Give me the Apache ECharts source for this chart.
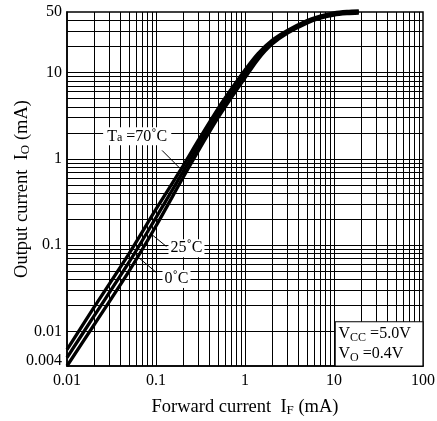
<!DOCTYPE html>
<html>
<head>
<meta charset="utf-8">
<script src="https://cdn.jsdelivr.net/npm/echarts@6/dist/echarts.min.js"></script>
<style>html,body{margin:0;padding:0;background:#fff}#c{width:437px;height:421px}</style>
</head>
<body>
<div id="c"></div>
<script>
// ---- data ----
const forwardCurrent = [0.01, 0.02, 0.05, 0.1, 0.2, 0.3, 0.5, 0.7, 1, 1.4, 2, 3, 5, 7, 10, 14, 19];
const output70C = [0.0062, 0.0189, 0.0806, 0.261, 0.819, 1.645, 3.84, 6.38, 10.66, 16.5, 23.3, 30.5, 39.8, 44.9, 48.9, 50.8, 51.5];
const output25C = [0.005, 0.0150, 0.064, 0.209, 0.70, 1.43, 3.4, 5.7, 9.6, 15.3, 22.2, 29.5, 38.6, 43.6, 47.5, 49.3, 50];
const output0C  = [0.004, 0.01185, 0.0506, 0.167, 0.599, 1.244, 3.01, 5.07, 8.64, 14.15, 21.1, 28.5, 37.4, 42.3, 46.1, 47.8, 48.5];

const xTicks = [0.01, 0.1, 1, 10, 100];
const xTickLabels = ['0.01', '0.1', '1', '10', '100'];
const yTicks = [0.004, 0.01, 0.1, 1, 10, 50];
const yTickLabels = ['0.004', '0.01', '0.1', '1', '10', '50'];

const xGridValues = [0.02,0.03,0.04,0.05,0.06,0.07,0.08,0.09,0.1,0.2,0.3,0.4,0.5,0.6,0.7,0.8,0.9,1,2,3,4,5,6,7,8,9,10,20,30,40,50,60,70,80,90];
const yGridValues = [0.005,0.006,0.007,0.008,0.009,0.01,0.02,0.03,0.04,0.05,0.06,0.07,0.08,0.09,0.1,0.2,0.3,0.4,0.5,0.6,0.7,0.8,0.9,1,2,3,4,5,6,7,8,9,10,20,30,40];

// ---- chart ----
const FONT = 'Liberation Serif';
function pickLabel(ticks, labels, v) {
  for (let i = 0; i < ticks.length; i++) {
    if (Math.abs(Math.log10(v) - Math.log10(ticks[i])) < 0.01) return labels[i];
  }
  return '';
}
const pairs = arr => forwardCurrent.map((x, i) => [x, arr[i]]);
const curveStyle = { color: '#000', width: 3.3 };
function curve(name, arr) {
  return {
    name, type: 'line', data: pairs(arr), showSymbol: false, symbol: 'none',
    smooth: 0.3, clip: false, lineStyle: curveStyle, z: 3, silent: true
  };
}
const subRich = {
  t: { fontFamily: FONT, fontSize: 18.5, color: '#000' },
  s: { fontFamily: FONT, fontSize: 13, color: '#000', verticalAlign: 'bottom' }
};

const chart = echarts.init(document.getElementById('c'), null, { renderer: 'canvas' });
chart.setOption({
  animation: false,
  backgroundColor: '#fff',
  grid: { left: 67, right: 14, top: 12, bottom: 55, show: true, borderColor: '#000', borderWidth: 1.5,
    backgroundColor: 'transparent', containLabel: false, outerBoundsMode: 'none' },
  xAxis: {
    type: 'log', logBase: 10, min: 0.01, max: 100,
    axisLine: { show: true, lineStyle: { color: '#000', width: 1.5 } },
    axisTick: { show: false }, splitLine: { show: false },
    axisLabel: { interval: 0, fontFamily: FONT, fontSize: 16, color: '#000', margin: 7,
      formatter: v => pickLabel(xTicks, xTickLabels, v) },
    name: '{t|Forward current  I}{s|F}{t| (mA)}',
    nameLocation: 'middle', nameGap: 32, nameMoveOverlap: false,
    nameTextStyle: { fontFamily: FONT, fontSize: 18.5, color: '#000', rich: subRich }
  },
  yAxis: {
    type: 'log', logBase: 10, min: 0.004, max: 50,
    axisLine: { show: true, lineStyle: { color: '#000', width: 1.5 } },
    axisTick: { show: false }, splitLine: { show: false },
    axisLabel: { interval: 0, fontFamily: FONT, fontSize: 16, color: '#000', margin: 5,
      formatter: v => {
        const s = pickLabel(yTicks, yTickLabels, v);
        return s === '0.004' ? '{low|' + s + '}' : s;
      },
      rich: { low: { fontFamily: FONT, fontSize: 16, color: '#000', padding: [0, 0, 10, 0] } }
    },
    name: '{t|Output current  I}{s|O}{t| (mA)}',
    nameLocation: 'middle', nameGap: 35, nameMoveOverlap: false,
    nameTextStyle: { fontFamily: FONT, fontSize: 18.5, color: '#000', rich: subRich }
  },
  series: [
    {
      name: 'grid', type: 'line', data: [], z: 1, silent: true,
      markLine: {
        z: 1, silent: true, symbol: ['none', 'none'], animation: false,
        label: { show: false },
        lineStyle: { color: '#000', width: 1, type: 'solid' },
        emphasis: { disabled: true },
        data: xGridValues.map(v => ({ xAxis: v })).concat(yGridValues.map(v => ({ yAxis: v })))
      }
    },
    curve('70°C', output70C),
    curve('25°C', output25C),
    curve('0°C', output0C),
    {
      name: 'notes', type: 'line', data: [], z: 6, silent: true,
      markLine: {
        z: 6, silent: true, symbol: ['none', 'none'], animation: false,
        label: { show: false },
        lineStyle: { color: '#000', width: 1, type: 'solid' },
        emphasis: { disabled: true },
        data: [
          [{ coord: [0.117, 1.25] }, { coord: [0.185, 0.78] }],
          [{ coord: [0.0851, 0.139] }, { coord: [0.131, 0.0966] }],
          [{ coord: [0.059, 0.077] }, { coord: [0.102, 0.0479] }]
        ]
      },
      markPoint: {
        z: 7, silent: true, symbol: 'circle', symbolSize: 0, animation: false,
        label: {
          show: true, position: 'inside', backgroundColor: '#fff', padding: [1, 4],
          fontFamily: FONT, fontSize: 16, color: '#000',
          rich: {
            t: { fontFamily: FONT, fontSize: 16, color: '#000' },
            s: { fontFamily: FONT, fontSize: 12, color: '#000', verticalAlign: 'bottom' }
          }
        },
        data: [
          { coord: [0.0615, 1.82], label: { formatter: '{t|T}{s|a}{t| =70˚C}' } },
          { coord: [0.22, 0.0925], label: { formatter: '{t|25˚C}', padding: [1, 2] } },
          { coord: [0.17, 0.0407], label: { formatter: '{t|0˚C}', padding: [1, 2] } }
        ]
      }
    },
    {
      name: 'conditions', type: 'line', data: [], z: 8, silent: true,
      markArea: {
        z: 8, silent: true, animation: false,
        itemStyle: { color: '#fff', opacity: 1, borderColor: '#000', borderWidth: 1.2 },
        emphasis: { disabled: true },
        label: {
          show: true, position: 'insideLeft', distance: 4,
          formatter: '{t|V}{s|CC}{t| =5.0V}\n{t|V}{s|O}{t| =0.4V}',
          rich: {
            t: { fontFamily: FONT, fontSize: 16, color: '#000', lineHeight: 20 },
            s: { fontFamily: FONT, fontSize: 12, color: '#000', verticalAlign: 'bottom', lineHeight: 14 }
          }
        },
        data: [[{ coord: [10.3, 0.013] }, { coord: [100, 0.004] }]]
      }
    }
  ]
});
</script>
</body>
</html>
